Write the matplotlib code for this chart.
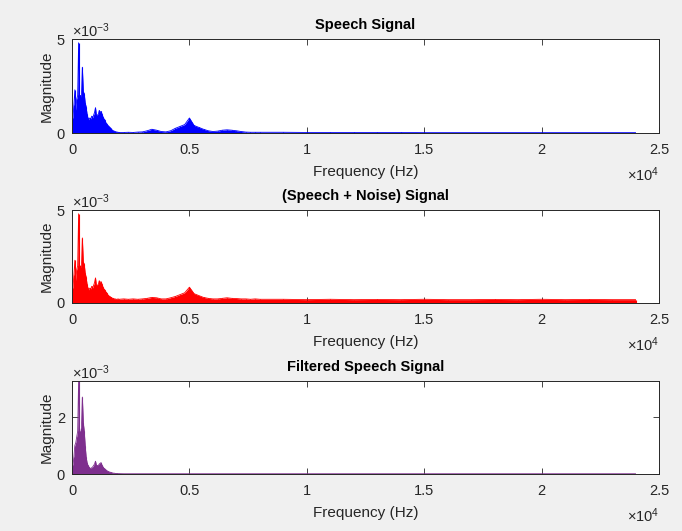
import numpy as np
import matplotlib
matplotlib.use("Agg")
import matplotlib.pyplot as plt

# -----------------------------
# DATA (magnitudes in units of 1e-3)
# -----------------------------

# frequency grid (Hz): fine below 2 kHz, coarser above
freq_low = list(range(0, 2001, 40))
freq_mid = list(range(2200, 8001, 200))
freq_high = list(range(9000, 24001, 1000))
freq = np.array(freq_low + freq_mid + freq_high, dtype=float)

speech_low = [0.1, 0.8, 1.5, 2.3, 1.2, 1.8, 2.0, 4.8, 1.6, 2.0, 1.9, 3.5, 2.2, 2.1,
              1.6, 1.4, 1.0, 0.8, 0.7, 0.8, 0.75, 0.9, 0.8, 0.95, 1.1, 1.35, 0.9,
              0.95, 1.0, 1.2, 1.1, 1.15, 1.0, 0.85, 0.75, 0.7, 0.55, 0.5, 0.4, 0.35,
              0.3, 0.25, 0.2, 0.15, 0.12, 0.1, 0.08, 0.06, 0.05, 0.04, 0.03]
speech_mid = [0.03, 0.04, 0.03, 0.05, 0.06, 0.12, 0.2, 0.15, 0.08, 0.06, 0.12, 0.25,
              0.35, 0.45, 0.8, 0.4, 0.3, 0.2, 0.12, 0.08, 0.1, 0.15, 0.17, 0.15,
              0.12, 0.08, 0.05, 0.04, 0.04, 0.04]
speech_high = [0.04, 0.03, 0.03, 0.03, 0.03, 0.03, 0.02, 0.02, 0.02, 0.02, 0.02,
               0.02, 0.02, 0.02, 0.02, 0.02]

noisy_low = [0.2, 0.8, 1.5, 2.3, 1.2, 1.8, 2.0, 4.8, 1.6, 2.0, 1.9, 3.5, 2.2, 2.1,
             1.6, 1.4, 1.0, 0.8, 0.7, 0.8, 0.75, 0.9, 0.8, 0.95, 1.1, 1.35, 0.9,
             0.95, 1.0, 1.2, 1.1, 1.15, 1.0, 0.85, 0.75, 0.7, 0.6, 0.55, 0.45, 0.4,
             0.35, 0.3, 0.3, 0.25, 0.25, 0.22, 0.22, 0.2, 0.2, 0.22, 0.2]
noisy_mid = [0.22, 0.2, 0.22, 0.2, 0.22, 0.25, 0.3, 0.28, 0.22, 0.22, 0.28, 0.35,
             0.45, 0.55, 0.85, 0.5, 0.4, 0.3, 0.25, 0.22, 0.22, 0.25, 0.28, 0.25,
             0.24, 0.22, 0.22, 0.2, 0.22, 0.2]
noisy_high = [0.2, 0.18, 0.2, 0.18, 0.19, 0.18, 0.2, 0.18, 0.18, 0.19, 0.18, 0.2,
              0.18, 0.19, 0.18, 0.18]

filt_low = [0.05, 0.3, 0.6, 1.0, 1.1, 1.3, 1.5, 3.26, 1.5, 1.4, 1.6, 2.7, 1.8, 1.5,
            1.0, 0.6, 0.4, 0.3, 0.25, 0.2, 0.2, 0.22, 0.25, 0.3, 0.35, 0.45, 0.3,
            0.3, 0.3, 0.35, 0.38, 0.4, 0.3, 0.25, 0.2, 0.18, 0.15, 0.12, 0.1, 0.08,
            0.07, 0.06, 0.05, 0.04, 0.03, 0.03, 0.02, 0.02, 0.02, 0.015, 0.015]
filt_mid = [0.01] * 30
filt_high = [0.01] * 16

speech = np.array(speech_low + speech_mid + speech_high) * 1e-3
noisy = np.array(noisy_low + noisy_mid + noisy_high) * 1e-3
filtered = np.array(filt_low + filt_mid + filt_high) * 1e-3

titles = ["Speech Signal", "(Speech + Noise) Signal", "Filtered Speech Signal"]
colors = ["#0000ff", "#ff0000", "#7e2f8e"]
ylims = [5e-3, 5e-3, 3.26e-3]
yticks = [[0, 5e-3], [0, 5e-3], [0, 2e-3]]
ytick_labels = [["0", "5"], ["0", "5"], ["0", "2"]]
xticks = [0, 5000, 10000, 15000, 20000, 25000]
xtick_labels = ["0", "0.5", "1", "1.5", "2", "2.5"]

# -----------------------------
# PLOT
# -----------------------------

plt.rcParams['font.family'] = ['Liberation Sans', 'DejaVu Sans']
plt.rcParams['mathtext.fontset'] = 'custom'
plt.rcParams['mathtext.rm'] = 'Liberation Sans'
plt.rcParams['mathtext.it'] = 'Liberation Sans'

axcol = '#262626'
fig = plt.figure(figsize=(6.82, 5.31), dpi=100, facecolor='#f0f0f0')

# axes boxes in figure fractions (left, bottom, width, height)
boxes = [(0.1056, 0.7495, 0.8607, 0.177),
         (0.1056, 0.4294, 0.8607, 0.175),
         (0.1056, 0.1073, 0.8607, 0.175)]

for i, mag in enumerate([speech, noisy, filtered]):
    ax = fig.add_axes(boxes[i])
    ax.fill_between(freq, 0, mag, color=colors[i], lw=0)
    ax.vlines(freq, 0, mag, color=colors[i], lw=0.8)
    ax.plot(freq, mag, color=colors[i], lw=0.6)

    ax.set_xlim(0, 25000)
    ax.set_ylim(0, ylims[i])
    ax.set_xticks(xticks)
    ax.set_xticklabels(xtick_labels)
    ax.set_yticks(yticks[i])
    ax.set_yticklabels(ytick_labels[i])

    ax.tick_params(direction='in', length=4, width=0.6, colors=axcol,
                   labelsize=10.5, top=True, right=True)
    ax.tick_params(axis='x', pad=7)
    ax.tick_params(axis='y', pad=5)
    for sp in ax.spines.values():
        sp.set_color(axcol)
        sp.set_linewidth(0.7)

    ax.set_title(titles[i], fontsize=10.5, fontweight='bold', color='black', pad=7)
    ax.set_xlabel("Frequency (Hz)", fontsize=11, color=axcol, labelpad=6)
    ax.set_ylabel("Magnitude", fontsize=11, color=axcol, labelpad=2)

    ax.annotate(r'$\times10^{-3}$', xy=(0, 1), xycoords='axes fraction',
                xytext=(0, -1), textcoords='offset points',
                ha='left', va='bottom', fontsize=10.5, color=axcol)
    ax.annotate(r'$\times10^{4}$', xy=(1, 0), xycoords='axes fraction',
                xytext=(0, -30), textcoords='offset points',
                ha='right', va='center', fontsize=10.5, color=axcol)

fig.savefig("out.png", dpi=100, facecolor=fig.get_facecolor())
